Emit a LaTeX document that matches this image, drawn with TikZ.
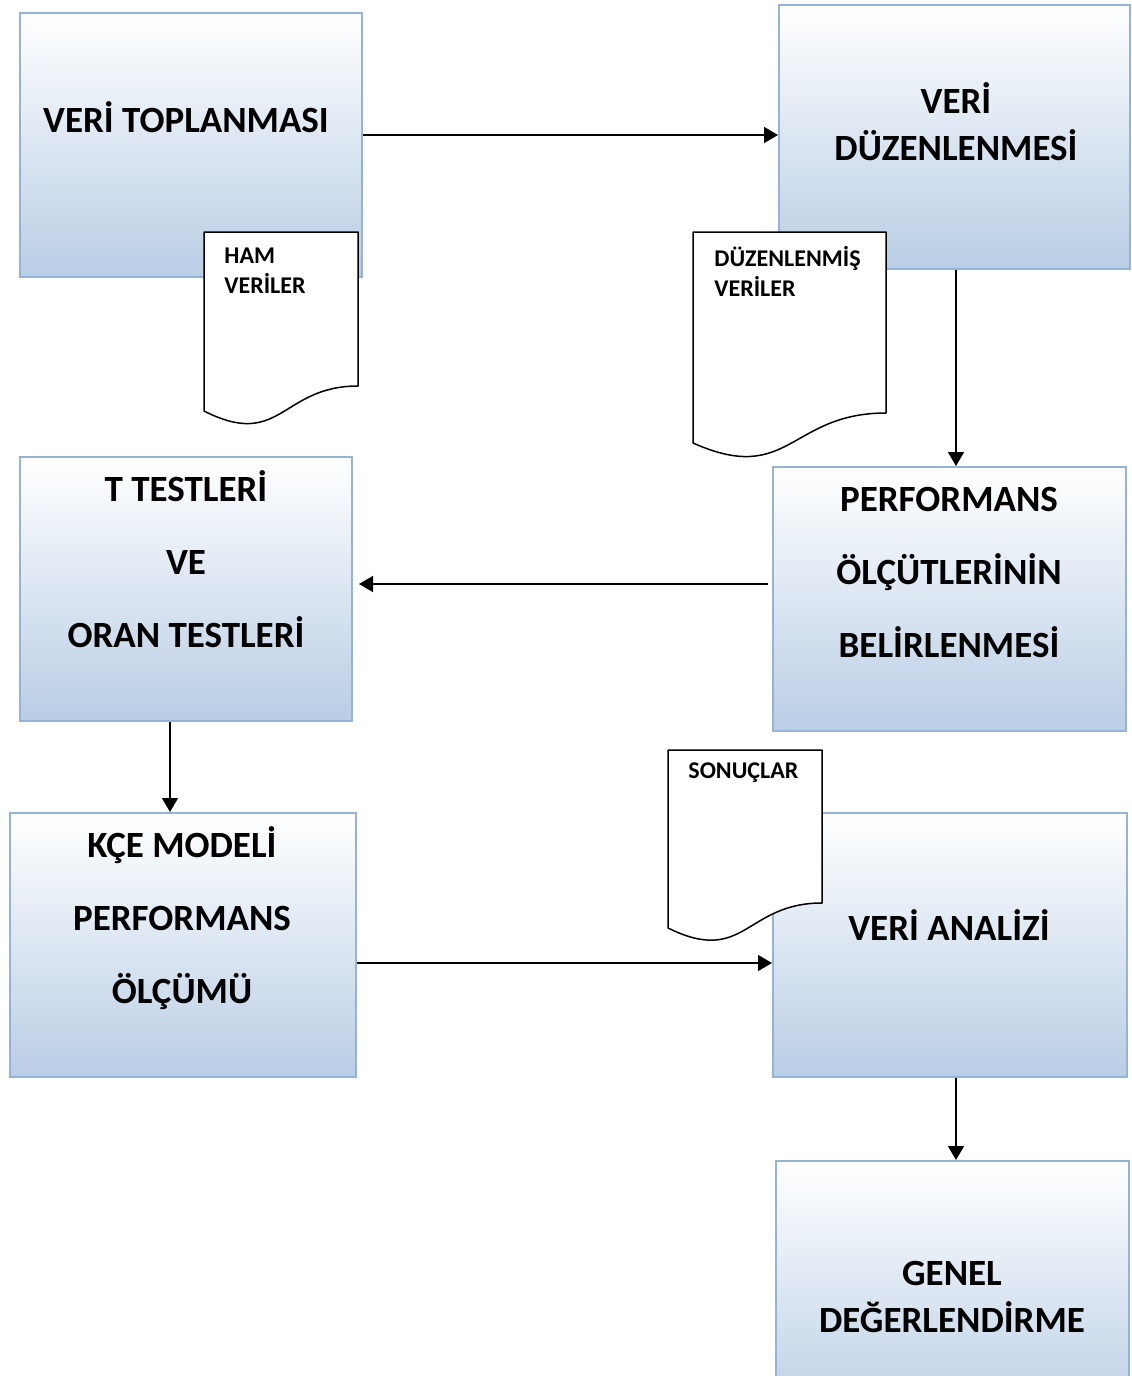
\documentclass[tikz,border=0pt]{standalone}
\usepackage{fontspec}
\setmainfont{Carlito}
\usetikzlibrary{arrows.meta}
\definecolor{boxedge}{RGB}{149,179,215}
\definecolor{boxfill}{RGB}{185,205,229}
\begin{document}
\begin{tikzpicture}[x=0.5pt,y=-0.5pt,
  box/.style={draw=boxedge, line width=1pt, top color=white, bottom color=boxfill,
    minimum height=132pt, inner sep=0pt},
  lbl/.style={font=\bfseries\fontsize{18.5}{23.5}\selectfont, align=center, inner sep=0pt},
  widelbl/.style={font=\bfseries\fontsize{18.5}{36.5}\selectfont, align=center, inner sep=0pt},
  doc/.style={draw=black, fill=white, line width=0.75pt, line join=round},
  doclbl/.style={font=\bfseries\fontsize{12}{15}\selectfont, align=left, inner sep=0pt, anchor=west},
  arrow/.style={-{Triangle[length=7pt,width=8pt]}, line width=0.8pt}]
\clip (0,0) rectangle (1131,1376);
\useasboundingbox (0,0) rectangle (1131,1376);
\fill[white] (0,0) rectangle (1131,1376);

% process boxes
\node[box, minimum width=171pt]   (b1) at (191,145)    {};
\node[box, minimum width=175.5pt] (b2) at (954.5,137)  {};
\node[box, minimum width=176.5pt] (b3) at (949.5,599)  {};
\node[box, minimum width=166pt]   (b4) at (186,589)    {};
\node[box, minimum width=173pt]   (b5) at (183,945)    {};
\node[box, minimum width=177pt]   (b6) at (950,945)    {};
\node[box, minimum width=176.5pt] (b7) at (952.5,1293) {};

% box titles
\node[lbl]     (t1) at (186,117) {VERİ TOPLANMASI};
\node[lbl]     (t2) at (956,122) {VERİ\\DÜZENLENMESİ};
\node[widelbl] (t3) at (949,572) {PERFORMANS\\ÖLÇÜTLERİNİN\\BELİRLENMESİ};
\node[widelbl] (t4) at (186,559) {T TESTLERİ\\VE\\ORAN TESTLERİ};
\node[widelbl] (t5) at (182,918) {KÇE MODELİ\\PERFORMANS\\ÖLÇÜMÜ};
\node[lbl]     (t6) at (949,925) {VERİ ANALİZİ};
\node[lbl]     (t7) at (952,1297) {GENEL\\DEĞERLENDİRME};

% document symbols (flowchart "document" outline)
\path[doc] (204,232) -- (358,232) -- (358,386)
  .. controls (281,386) and (281,450) .. (204,411) -- cycle;
\path[doc] (693,232) -- (886,232) -- (886,413)
  .. controls (789.5,413) and (789.5,486) .. (693,443) -- cycle;
\path[doc] (668,750) -- (822,750) -- (822,903)
  .. controls (745,903) and (745,966) .. (668,928) -- cycle;

\node[doclbl] (d1) at (224,271) {HAM\\VERİLER};
\node[doclbl] (d2) at (714,271) {DÜZENLENMİŞ\\VERİLER};
\node[doclbl] (d3) at (688,773) {SONUÇLAR};

% connectors
\coordinate (r1) at (0,135);
\coordinate (r3) at (0,584);
\coordinate (r5) at (0,963);
\coordinate (c2) at (956,0);
\coordinate (c4) at (170,0);

\draw[arrow] (b1.east |- r1) -- (b2.west |- r1);
\draw[arrow] (b2.south -| c2) -- (b3.north -| c2);
\draw[arrow, shorten <=2pt, shorten >=3pt] (b3.west |- r3) -- (b4.east |- r3);
\draw[arrow] (b4.south -| c4) -- (b5.north -| c4);
\draw[arrow] (b5.east |- r5) -- (b6.west |- r5);
\draw[arrow] (b6.south -| c2) -- (b7.north -| c2);
\end{tikzpicture}
\end{document}
